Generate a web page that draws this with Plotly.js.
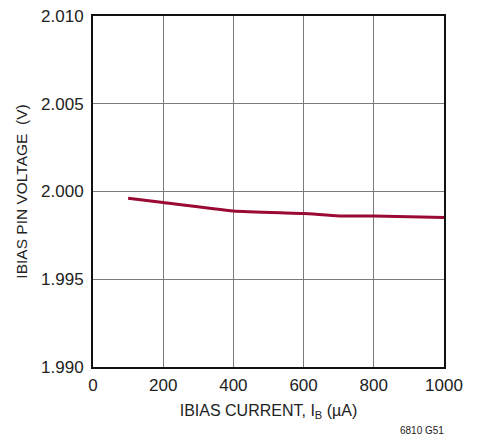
<!DOCTYPE html>
<html><head><meta charset="utf-8">
<script src="https://cdn.plot.ly/plotly-3.0.1.min.js"></script>
<style>body{margin:0;background:#fff}#c{width:480px;height:436px}</style>
</head><body><div id="c"></div>
<script>
const currentUA = [100, 200, 400, 600, 700, 800, 1000];
const pinVoltage = [1.99962, 1.99937, 1.99889, 1.99874, 1.99861, 1.99861, 1.99852];
const xTicks = [0, 200, 400, 600, 800, 1000];
const yTicks = [1.990, 1.995, 2.000, 2.005, 2.010];
const yTickText = ['1.990', '1.995', '2.000', '2.005', '2.010'];
const FONT = '"Liberation Sans Narrow", "Liberation Sans", Arial, sans-serif';

Plotly.newPlot('c', [{
  x: currentUA, y: pinVoltage, type: 'scatter', mode: 'lines',
  line: {color: '#9a0a32', width: 3, shape: 'spline', smoothing: 0.5}
}], {
  width: 480, height: 436,
  margin: {l: 93, r: 36, t: 16, b: 69},
  paper_bgcolor: '#fff', plot_bgcolor: '#fff',
  showlegend: false,
  font: {family: FONT, color: '#222', size: 16},
  xaxis: {range: [0, 1000], tickvals: xTicks, ticks: '', showgrid: true, gridcolor: '#7a7a7a', gridwidth: 1,
    zeroline: false, showline: true, linecolor: '#111', linewidth: 2, mirror: true,
    tickfont: {size: 17, family: FONT}, ticklabelstandoff: 2,
    title: {text: 'IBIAS CURRENT, I<sub>B</sub> (µA)', font: {size: 16, family: FONT}, standoff: 10}},
  yaxis: {range: [1.990, 2.010], tickvals: yTicks, ticktext: yTickText, ticks: '', showgrid: true, gridcolor: '#7a7a7a', gridwidth: 1,
    zeroline: false, showline: true, linecolor: '#111', linewidth: 2, mirror: true,
    tickfont: {size: 17, family: FONT}, ticklabelstandoff: 4,
    title: {text: 'IBIAS PIN VOLTAGE  (V)', font: {size: 15.5, family: FONT}, standoff: 10}},
  annotations: [{text: '6810 G51', xref: 'paper', yref: 'paper', x: 1.0, y: 0, xanchor: 'right', yanchor: 'top',
    yshift: -56, xshift: 2, showarrow: false, font: {size: 10, family: FONT, color: '#222'}}]
}, {displayModeBar: false, staticPlot: true});
</script></body></html>
